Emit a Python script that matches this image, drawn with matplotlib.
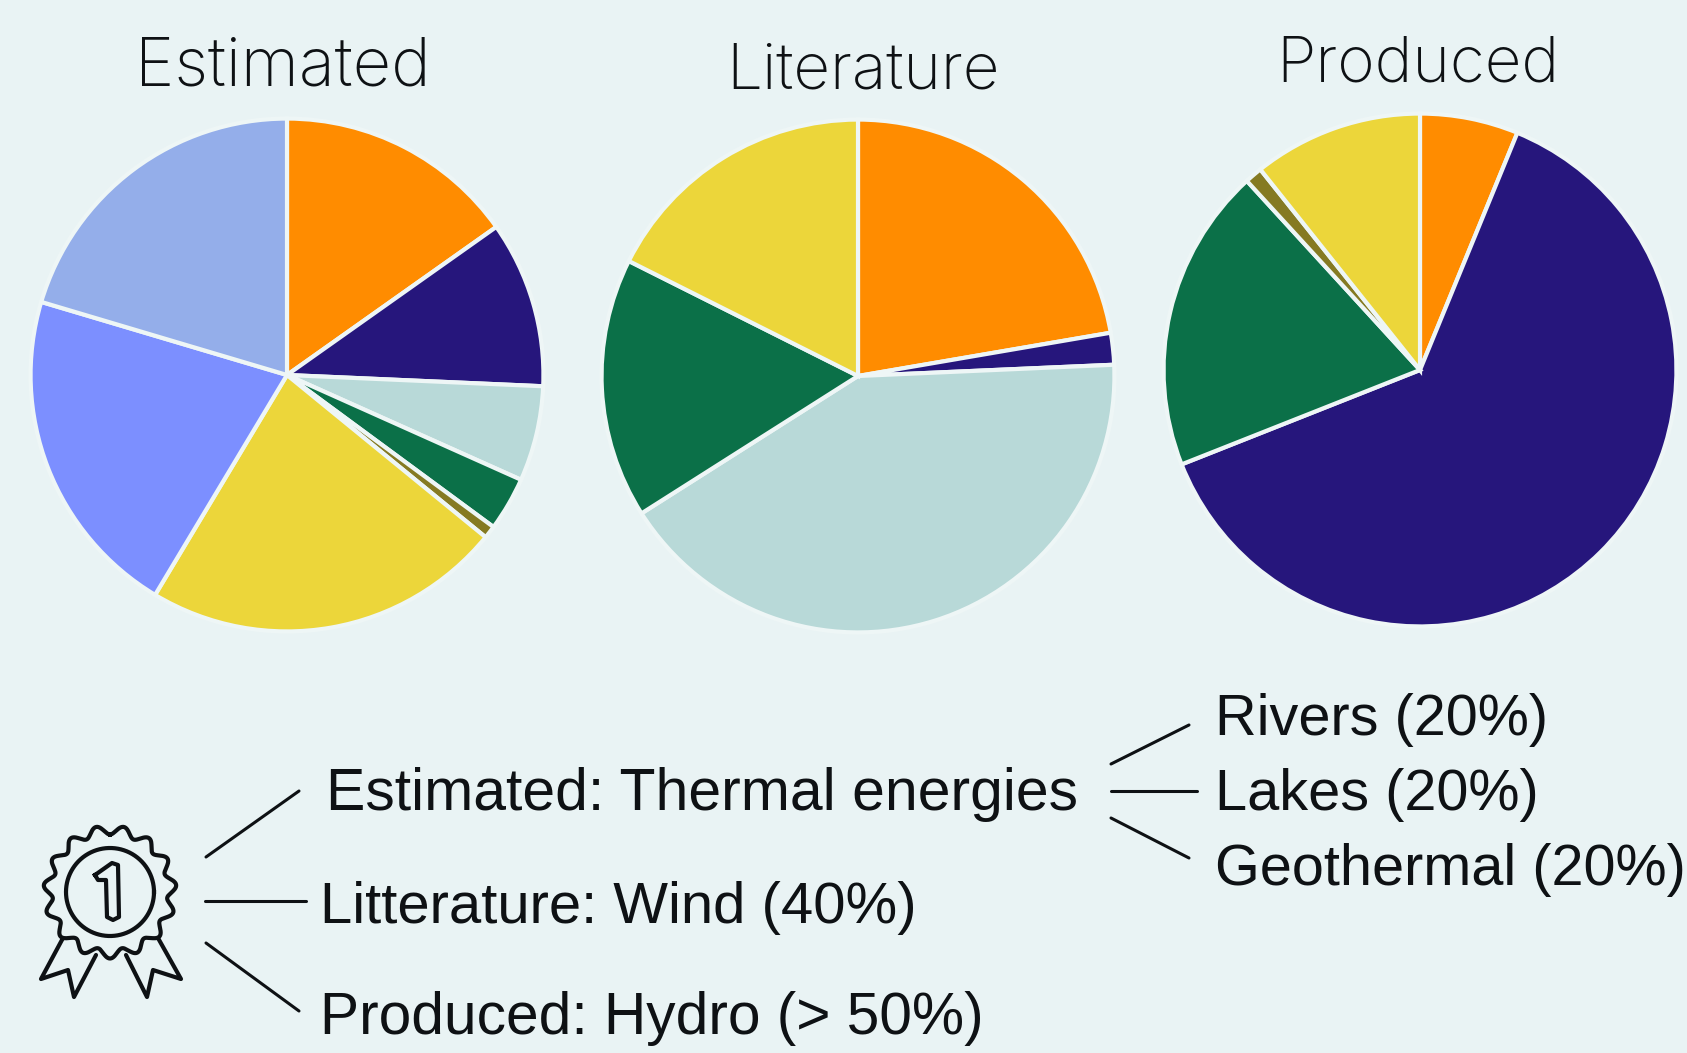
import numpy as np
import matplotlib
matplotlib.use("Agg")
import matplotlib.pyplot as plt

W, H = 1687, 1053
BG = "#e9f3f4"
EDGE = "#eef6f6"
INK = "#0e1114"

# Share of each source, clockwise from the top
estimated = [15.2, 10.5, 6.0, 3.4, 0.8, 22.7, 21.0, 20.4]
estimated_colors = ["#ff8c00", "#26167c", "#b8d9d8", "#0b7048", "#857a22", "#ecd63a", "#7c8fff", "#94aeea"]

literature = [22.3, 2.0, 41.7, 16.4, 17.6]
literature_colors = ["#ff8c00", "#26167c", "#b8d9d8", "#0b7048", "#ecd63a"]

produced = [6.2, 62.8, 19.2, 1.1, 10.7]
produced_colors = ["#ff8c00", "#26167c", "#0b7048", "#857a22", "#ecd63a"]

titles = ["Estimated", "Literature", "Produced"]
ranking_labels = ["Estimated: Thermal energies", "Litterature: Wind (40%)", "Produced: Hydro (> 50%)"]
thermal_labels = ["Rivers (20%)", "Lakes (20%)", "Geothermal (20%)"]

fig = plt.figure(figsize=(W / 100, H / 100), dpi=100, facecolor=BG)

# full-figure axes in pixel units for text, leader lines and the medal
canvas = fig.add_axes([0, 0, 1, 1])
canvas.set_xlim(0, W)
canvas.set_ylim(H, 0)
canvas.axis("off")


def add_pie(values, colors, cx, cy, r=259):
    ax = fig.add_axes([(cx - r) / W, 1 - (cy + r) / H, 2 * r / W, 2 * r / H])
    ax.pie(values, colors=colors, startangle=90, counterclock=False, radius=1,
           wedgeprops={"edgecolor": EDGE, "linewidth": 3})
    ax.set_xlim(-1.01, 1.01)
    ax.set_ylim(-1.01, 1.01)


add_pie(estimated, estimated_colors, 287, 375)
add_pie(literature, literature_colors, 858, 376)
add_pie(produced, produced_colors, 1420, 370)

# pie titles
for t, x, y, fs in zip(titles, [135, 726, 1276], [85, 88, 82], [48, 46, 46]):
    canvas.text(x, y, t, family="Inter", weight="light", fontsize=fs, color=INK, va="baseline", ha="left")

# ranking text
for t, x, y, fs in zip(ranking_labels, [326, 320, 320], [810, 923, 1034], [42.4, 41.8, 42.2]):
    canvas.text(x, y, t, family="Liberation Sans", fontsize=fs, color=INK, va="baseline", ha="left")
for t, y in zip(thermal_labels, [735, 810, 885]):
    canvas.text(1215, y, t, family="Liberation Sans", fontsize=41.5, color=INK, va="baseline", ha="left")

# leader lines
leaders = [
    (206, 857, 299, 791), (205, 901, 306, 901), (206, 943, 299, 1011),
    (1111, 764, 1189, 725), (1111, 791, 1197, 791), (1111, 818, 1189, 858),
]
for x0, y0, x1, y1 in leaders:
    canvas.plot([x0, x1], [y0, y1], color=INK, lw=2.2, solid_capstyle="round")

# medal: scalloped rim, inner ring, ribbons and the numeral
mx, my = 110, 892
theta = np.linspace(0, 2 * np.pi, 720)
rim = 62 - 4.5 * np.cos(15 * theta)
canvas.plot(mx + rim * np.sin(theta), my - rim * np.cos(theta), color=INK, lw=3)
canvas.plot(mx + 44 * np.cos(theta), my + 44 * np.sin(theta), color=INK, lw=3)

ribbon_left = [(63, 938), (41, 979), (68, 970), (74, 997), (96, 955)]
ribbon_right = [(158, 938), (181, 979), (153, 970), (147, 997), (126, 955)]
for pts in (ribbon_left, ribbon_right):
    xs, ys = zip(*pts)
    canvas.plot(xs, ys, color=INK, lw=3, solid_joinstyle="round", solid_capstyle="round")

one = [(95, 875), (112, 863), (118, 865), (119, 917), (113, 920), (107, 917), (106, 880), (98, 880), (95, 875)]
xs, ys = zip(*one)
canvas.plot(xs, ys, color=INK, lw=3, solid_joinstyle="round")

fig.savefig("out.png", dpi=100, facecolor=BG)
